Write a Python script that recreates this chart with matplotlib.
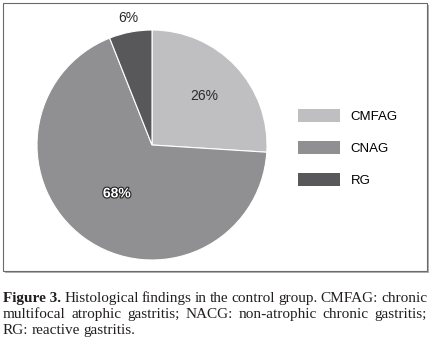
import numpy as np
import matplotlib.pyplot as plt
from matplotlib.patches import Rectangle, Patch
import matplotlib.patheffects as pe

labels = ["CMFAG", "CNAG", "RG"]
values = [26, 68, 6]
colors = ["#bfbfc1", "#909093", "#58585a"]
label_dist = [0.62, 0.52, 1.12]

caption_lines = [
    ("Figure 3.", "Histological findings in the control group. CMFAG: chronic"),
    ("", "multifocal atrophic gastritis; NACG: non-atrophic chronic gastritis;"),
    ("", "RG: reactive gastritis."),
]

W, H = 430, 347
fig = plt.figure(figsize=(W / 100, H / 100), dpi=100)
fig.patch.set_facecolor("white")

# frame with a little shadow
fig.add_artist(Rectangle((5 / W, 1 - 273 / H), 424 / W, 268 / H, transform=fig.transFigure,
                         facecolor="#b0b0b0", edgecolor="none", zorder=0))
fig.add_artist(Rectangle((3 / W, 1 - 271 / H), 424 / W, 268 / H, transform=fig.transFigure,
                         facecolor="white", edgecolor="#6a6a6a", linewidth=0.8, zorder=1))

# pie
cx, cy, r = 152, 145, 115
ax = fig.add_axes([(cx - r) / W, 1 - (cy + r) / H, 2 * r / W, 2 * r / H])
ax.set_zorder(2)
wedges, _ = ax.pie(values, colors=colors, startangle=90, counterclock=False,
                   wedgeprops=dict(edgecolor="white", linewidth=0.8))
ax.set_xlim(-1, 1)
ax.set_ylim(-1, 1)
ax.set_aspect("auto")
ax.axis("off")

for w, v, d in zip(wedges, values, label_dist):
    ang = np.deg2rad((w.theta1 + w.theta2) / 2)
    t = ax.text(d * np.cos(ang), d * np.sin(ang), f"{v}%", ha="center", va="center",
                fontsize=10, family="Liberation Sans", color="#2a2a2a", clip_on=False)
    if v == 68:
        t.set_color("white")
        t.set_path_effects([pe.withStroke(linewidth=1.6, foreground="#222222")])
        t.set_fontweight("bold")

handles = [Patch(facecolor=c, edgecolor="none") for c in colors]
leg = fig.legend(handles, labels, loc="center left", bbox_to_anchor=(298 / W, 1 - 148 / H),
                 frameon=False, borderpad=0, borderaxespad=0, handlelength=3.2,
                 handleheight=1.2, labelspacing=1.35, handletextpad=0.8,
                 prop=dict(family="Liberation Sans", size=9.5))
leg.set_zorder(3)

# justified caption
fig.canvas.draw()
renderer = fig.canvas.get_renderer()
x0, x1 = 3 / W, 427 / W
ys = [302, 318, 334]
fs = 11
for i, ((bold, rest), yp) in enumerate(zip(caption_lines, ys)):
    words = []
    if bold:
        words.append((bold, "bold"))
    words += [(w, "normal") for w in rest.split()]
    arts = []
    for w, wt in words:
        t = fig.text(0, 1 - yp / H, w, fontsize=fs, family="Liberation Serif",
                     fontweight=wt, color="#231f20", va="baseline", ha="left")
        arts.append(t)
    widths = [a.get_window_extent(renderer).width / W for a in arts]
    if i == len(ys) - 1:
        sp = 3.5 / W
    else:
        sp = (x1 - x0 - sum(widths)) / (len(arts) - 1)
    x = x0
    for a, wd in zip(arts, widths):
        a.set_x(x)
        x += wd + sp

fig.savefig("out.png", dpi=100, facecolor="white")
